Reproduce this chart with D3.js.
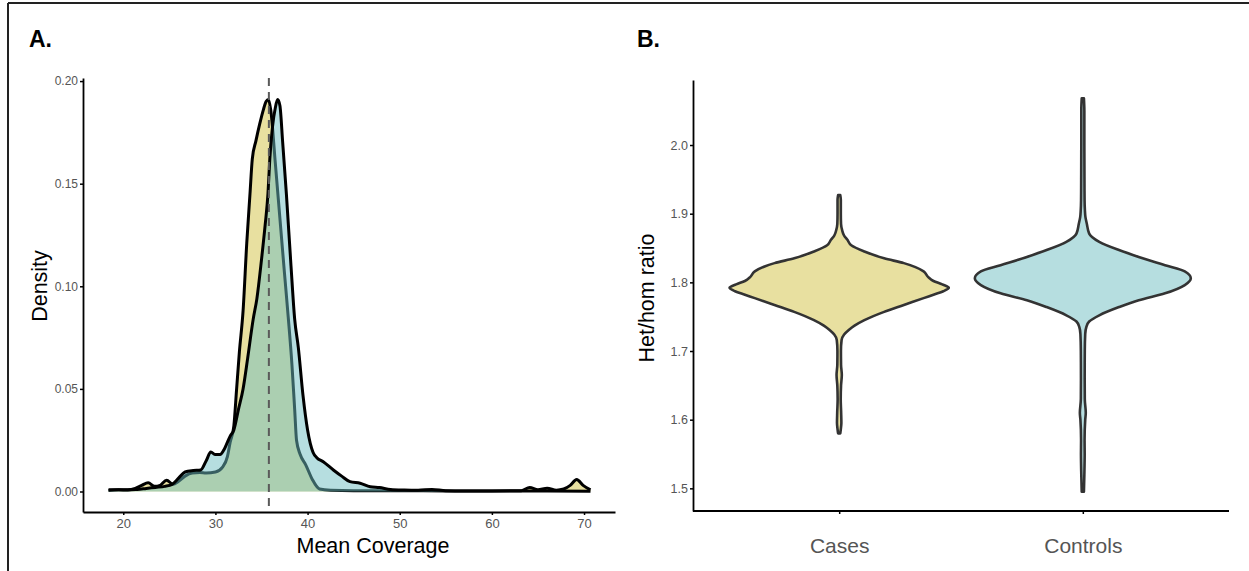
<!DOCTYPE html>
<html>
<head>
<meta charset="utf-8">
<script src="https://cdn.jsdelivr.net/npm/d3@7"></script>
<style>
  body { margin: 0; background: #fff; }
  svg { display: block; font-family: "Liberation Sans", Arial, Helvetica, sans-serif; }
</style>
</head>
<body>
<svg id="chart" width="1249" height="571"></svg>
<script>
// Panel A: coverage density, cases vs controls
const casesX = [18.4, 19.5, 20.5, 21.3, 22.0, 22.7, 23.4, 24.0, 24.7, 25.4, 26.0, 26.7, 27.5, 28.3, 29.0, 30.0, 30.8, 31.3, 31.6, 32.0, 32.3, 32.6, 33.0, 33.4, 33.75, 34.0, 34.4, 34.8, 35.2, 35.5, 35.75, 36.0, 36.5, 37.0, 37.5, 37.9, 38.3, 38.6, 38.8, 39.2, 39.8, 40.5, 41.3, 42.5, 45, 50, 55, 60, 63.2, 64.1, 65.0, 66.0, 67.0, 67.8, 68.5, 69.2, 69.9, 70.7];
const casesDensity = [0.0005, 0.0008, 0.0008, 0.0015, 0.003, 0.0043, 0.0025, 0.003, 0.0055, 0.0035, 0.005, 0.0075, 0.009, 0.0092, 0.009, 0.0095, 0.012, 0.017, 0.024, 0.032, 0.05, 0.068, 0.088, 0.121, 0.145, 0.162, 0.171, 0.179, 0.186, 0.19, 0.191, 0.186, 0.16, 0.133, 0.106, 0.085, 0.062, 0.04, 0.025, 0.018, 0.013, 0.006, 0.0012, 0.0006, 0.0004, 0.0004, 0.0003, 0.0003, 0.0004, 0.002, 0.0008, 0.0016, 0.0006, 0.0012, 0.003, 0.0058, 0.003, 0.0008];

const controlsX = [18.4, 19.5, 20.5, 21.5, 22.5, 23.5, 24.5, 25.3, 26.0, 26.7, 27.6, 28.4, 29.0, 29.5, 30.0, 30.5, 31.0, 31.6, 32.0, 32.5, 33.0, 33.5, 34.1, 34.5, 35.0, 35.4, 35.7, 35.9, 36.2, 36.5, 36.75, 37.0, 37.3, 37.7, 38.2, 38.6, 39.0, 39.5, 40.0, 40.6, 41.0, 41.7, 42.8, 43.7, 44.6, 45.7, 46.8, 47.8, 49.0, 50.5, 52.0, 53.5, 55.0, 57, 60, 63, 66, 70.7];
const controlsDensity = [0.0008, 0.0008, 0.0007, 0.001, 0.0015, 0.002, 0.0025, 0.0035, 0.0065, 0.0095, 0.0102, 0.0105, 0.015, 0.0192, 0.018, 0.018, 0.021, 0.027, 0.03, 0.04, 0.05, 0.065, 0.084, 0.094, 0.113, 0.13, 0.145, 0.162, 0.178, 0.187, 0.191, 0.188, 0.17, 0.145, 0.11, 0.084, 0.07, 0.047, 0.03, 0.019, 0.0165, 0.0145, 0.0105, 0.0075, 0.0048, 0.004, 0.0023, 0.0019, 0.001, 0.0007, 0.0006, 0.001, 0.0004, 0.0003, 0.0003, 0.0002, 0.0002, 0.0001];

const meanCoverage = 35.8;
const coverageTicks = [20, 30, 40, 50, 60, 70];
const densityTicks = [0, 0.05, 0.10, 0.15, 0.20];

// Panel B: het/hom ratio violins (value, relative half width)
const groups = ["Cases", "Controls"];
const casesRatio = [1.927, 1.92, 1.90, 1.885, 1.876, 1.868, 1.862, 1.854, 1.845, 1.835, 1.828, 1.816, 1.808, 1.802, 1.797, 1.792, 1.787, 1.782, 1.777, 1.767, 1.757, 1.745, 1.737, 1.731, 1.724, 1.716, 1.70, 1.68, 1.665, 1.65, 1.63, 1.61, 1.595, 1.585, 1.58];
const casesWidth = [0.01, 0.015, 0.015, 0.017, 0.027, 0.045, 0.075, 0.11, 0.23, 0.41, 0.59, 0.77, 0.81, 0.86, 0.94, 1.0, 0.95, 0.86, 0.77, 0.59, 0.41, 0.23, 0.14, 0.09, 0.045, 0.022, 0.016, 0.017, 0.024, 0.017, 0.014, 0.018, 0.02, 0.014, 0.01];
const controlsRatio = [2.068, 2.05, 2.0, 1.95, 1.92, 1.905, 1.895, 1.885, 1.871, 1.859, 1.847, 1.837, 1.825, 1.816, 1.806, 1.796, 1.784, 1.774, 1.764, 1.752, 1.743, 1.735, 1.725, 1.70, 1.66, 1.63, 1.61, 1.60, 1.57, 1.55, 1.52, 1.495];
const controlsWidth = [0.01, 0.014, 0.014, 0.015, 0.016, 0.019, 0.024, 0.037, 0.058, 0.15, 0.33, 0.51, 0.75, 0.93, 0.985, 0.93, 0.75, 0.51, 0.33, 0.15, 0.058, 0.032, 0.022, 0.018, 0.017, 0.018, 0.027, 0.022, 0.016, 0.017, 0.014, 0.01];
const ratioTicks = [1.5, 1.6, 1.7, 1.8, 1.9, 2.0];

const colors = {Cases: "#D1C141", Controls: "#6DBDC1"};
const tickColor = "#555";

const svg = d3.select("#chart");

// frame
svg.append("line").attr("x1", 8).attr("x2", 1249).attr("y1", 3).attr("y2", 3)
    .attr("stroke", "#222").attr("stroke-width", 2);
svg.append("line").attr("x1", 8).attr("x2", 8).attr("y1", 3).attr("y2", 571)
    .attr("stroke", "#222").attr("stroke-width", 2);

function styleAxis(g, size){
    g.select(".domain").attr("stroke", "#000").attr("stroke-width", 1.8);
    g.selectAll(".tick line").attr("stroke", "#000").attr("stroke-width", 1.5);
    g.selectAll(".tick text").attr("fill", tickColor).style("font-size", size + "px");
}

// ---------- Panel A ----------
svg.append("text").attr("x", 29).attr("y", 47)
    .style("font-size", "23px").style("font-weight", "bold").text("A.");

const xA = d3.scaleLinear().domain([15.63, 73.36]).range([83, 615]);
const yA = d3.scaleLinear().domain([-0.00999, 0.2015]).range([512, 78]);

const densityArea = d3.area()
    .x(d => xA(d[0])).y0(yA(0)).y1(d => yA(d[1]))
    .curve(d3.curveMonotoneX);
const densityLine = d3.line()
    .x(d => xA(d[0])).y(d => yA(d[1]))
    .curve(d3.curveMonotoneX);

const series = [
    {name: "Cases", pts: casesX.map((x, i) => [x, casesDensity[i]])},
    {name: "Controls", pts: controlsX.map((x, i) => [x, controlsDensity[i]])}
];

series.forEach(s => {
    svg.append("path").attr("d", densityArea(s.pts))
        .attr("fill", colors[s.name]).attr("fill-opacity", 0.5);
    svg.append("path").attr("d", densityLine(s.pts))
        .attr("fill", "none").attr("stroke", "#000").attr("stroke-width", 3)
        .attr("stroke-linejoin", "round");
});

svg.append("line")
    .attr("x1", xA(meanCoverage)).attr("x2", xA(meanCoverage))
    .attr("y1", yA.range()[1]).attr("y2", yA.range()[0])
    .attr("stroke", "#5a5a5a").attr("stroke-width", 2)
    .attr("stroke-dasharray", "8,6");

svg.append("g").attr("transform", "translate(0,512)")
    .call(d3.axisBottom(xA).tickValues(coverageTicks).tickSize(3).tickSizeOuter(0).tickPadding(4))
    .call(g => styleAxis(g, 13));

svg.append("g").attr("transform", "translate(83,0)")
    .call(d3.axisLeft(yA).tickValues(densityTicks).tickFormat(d3.format(".2f")).tickSize(3).tickSizeOuter(0).tickPadding(2))
    .call(g => styleAxis(g, 12));

svg.append("text").attr("x", 373).attr("y", 553).attr("text-anchor", "middle")
    .style("font-size", "21.5px").text("Mean Coverage");
svg.append("text").attr("transform", "translate(47,286) rotate(-90)").attr("text-anchor", "middle")
    .style("font-size", "21.5px").text("Density");

// ---------- Panel B ----------
svg.append("text").attr("x", 637).attr("y", 47)
    .style("font-size", "23px").style("font-weight", "bold").text("B.");

const xB = d3.scalePoint().domain(groups).range([693, 1229]).padding(0.6);
const yB = d3.scaleLinear().domain([1.467, 2.0947]).range([511, 80]);
const halfWidth = d3.scaleLinear().domain([0, 1]).range([0, xB.step() * 0.45]);

const violins = [
    {name: "Cases", vals: casesRatio, w: casesWidth},
    {name: "Controls", vals: controlsRatio, w: controlsWidth}
];

violins.forEach(v => {
    const cx = xB(v.name);
    const pts = v.vals.map((val, i) => ({val: val, w: v.w[i]}));
    const area = d3.area()
        .y(d => yB(d.val))
        .x0(d => cx - halfWidth(d.w))
        .x1(d => cx + halfWidth(d.w))
        .curve(d3.curveMonotoneY);
    svg.append("path").attr("d", area(pts))
        .attr("fill", colors[v.name]).attr("fill-opacity", 0.5)
        .attr("stroke", "#333").attr("stroke-width", 2.6)
        .attr("stroke-linejoin", "round");
});

svg.append("g").attr("transform", "translate(0,511)")
    .call(d3.axisBottom(xB).tickSize(3).tickSizeOuter(0).tickPadding(24))
    .call(g => styleAxis(g, 21))
    .call(g => g.select(".domain").attr("d", "M693,0H1229"));

svg.append("g").attr("transform", "translate(693,0)")
    .call(d3.axisLeft(yB).tickValues(ratioTicks).tickFormat(d3.format(".1f")).tickSize(3).tickSizeOuter(0).tickPadding(2))
    .call(g => styleAxis(g, 12.5));

svg.append("text").attr("transform", "translate(654,298) rotate(-90)").attr("text-anchor", "middle")
    .style("font-size", "21.5px").text("Het/hom ratio");
</script>
</body>
</html>
